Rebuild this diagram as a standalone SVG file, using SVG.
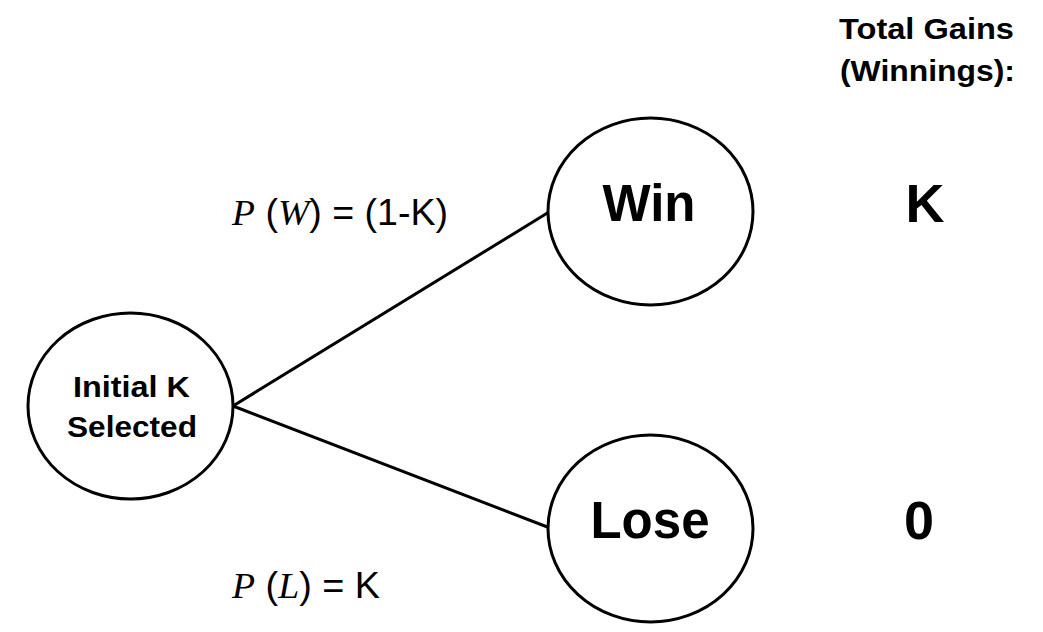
<svg xmlns="http://www.w3.org/2000/svg" width="1043" height="632" viewBox="0 0 1043 632">
<style>
.node{fill:#fff;stroke:#000;stroke-width:3}
.edge{stroke:#000;stroke-width:3;fill:none}
.b{font-family:"Liberation Sans",Arial,sans-serif;font-weight:bold;fill:#000;text-anchor:middle}
.lbl{font-family:"Liberation Sans",Arial,sans-serif;font-size:36px;fill:#000}
.it{font-family:"Liberation Serif","Times New Roman",serif;font-style:italic}
</style>
<rect width="1043" height="632" fill="#fff"/>
<g id="connectors">
<line class="edge" x1="233" y1="406" x2="549" y2="212"/>
<line class="edge" x1="233" y1="406" x2="550" y2="528"/>
</g>
<g id="initial">
<ellipse class="node" cx="130.5" cy="406" rx="102.5" ry="93"/>
<text class="b" x="131.5" y="397" font-size="30" textLength="117" lengthAdjust="spacingAndGlyphs">Initial K</text>
<text class="b" x="132" y="437" font-size="30" textLength="130" lengthAdjust="spacingAndGlyphs">Selected</text>
</g>
<g id="win">
<ellipse class="node" cx="650.5" cy="211.5" rx="102.5" ry="93.5"/>
<text class="b" x="649" y="221" font-size="51">Win</text>
</g>
<g id="lose">
<ellipse class="node" cx="650.5" cy="528.5" rx="102.5" ry="93.5"/>
<text class="b" x="650" y="538" font-size="51">Lose</text>
</g>
<g id="gains-header">
<text class="b" x="926.5" y="39" font-size="30" textLength="175" lengthAdjust="spacingAndGlyphs">Total Gains</text>
<text class="b" x="927.5" y="81" font-size="30" textLength="175" lengthAdjust="spacingAndGlyphs">(Winnings):</text>
</g>
<g id="gain-win">
<text class="b" x="925" y="222" font-size="54">K</text>
</g>
<g id="gain-lose">
<text class="b" x="919" y="539" font-size="54">0</text>
</g>
<g id="label-win">
<text class="lbl" x="232" y="225" textLength="216" lengthAdjust="spacingAndGlyphs"><tspan class="it">P</tspan> (<tspan class="it">W</tspan>) = (1-K)</text>
</g>
<g id="label-lose">
<text class="lbl" x="232" y="598" textLength="148" lengthAdjust="spacingAndGlyphs"><tspan class="it">P</tspan> (<tspan class="it">L</tspan>) = K</text>
</g>
</svg>
